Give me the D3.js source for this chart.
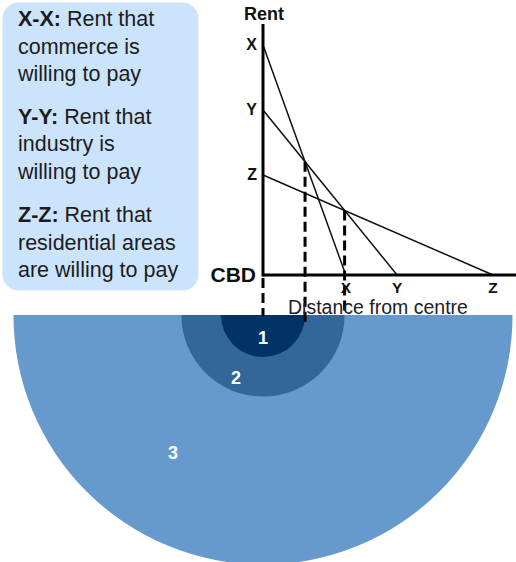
<!DOCTYPE html>
<html>
<head>
<meta charset="utf-8">
<script src="https://cdn.jsdelivr.net/npm/d3@7"></script>
<style>
  html, body { margin: 0; padding: 0; background: #fff; }
  svg { display: block; font-family: "Liberation Sans", Arial, sans-serif; }
</style>
</head>
<body>
<svg id="chart" width="516" height="562"></svg>
<script>
// Bid-rent curves: rent each land use will pay at the CBD and the distance where it falls to zero
const uses = ["X", "Y", "Z"];
const rentAtCentre = [10, 7.17, 4.35];
const zeroRentDistance = [3.6, 5.83, 10];

// Key text (bold prefix + wrapped description lines)
const keyPrefixes = ["X-X:", "Y-Y:", "Z-Z:"];
const keyLines = [
  ["Rent that", "commerce is", "willing to pay"],
  ["Rent that", "industry is", "willing to pay"],
  ["Rent that", "residential areas", "are willing to pay"]
];

// Land-use zones around the centre; zone 3 extends to this distance
const zoneLabels = ["1", "2", "3"];
const outerZoneLimit = 10.85;
const zoneColors = ["#023366", "#336699", "#6699cc"];

const svg = d3.select("#chart");

// Scales: distance (x) and rent (y)
const x = d3.scaleLinear().domain([0, 10]).range([263, 493]);
const y = d3.scaleLinear().domain([0, 10]).range([275, 45]);

// Straight bid-rent line for each use
const lineData = uses.map((u, i) => ({
  name: u,
  r0: rentAtCentre[i],
  d0: zeroRentDistance[i],
  slope: rentAtCentre[i] / zeroRentDistance[i]
}));

// Where one line overtakes the next: boundaries between zones
function crossing(a, b) {
  const d = (a.r0 - b.r0) / (a.slope - b.slope);
  return { d: d, r: a.r0 - a.slope * d };
}
const xy = crossing(lineData[0], lineData[1]);
const yz = crossing(lineData[1], lineData[2]);
const zoneLimits = [xy.d, yz.d, outerZoneLimit];

// ---- Key box ----
const key = svg.append("g");
key.append("rect")
  .attr("x", 2.5).attr("y", 2.5)
  .attr("width", 196).attr("height", 288)
  .attr("rx", 16).attr("ry", 16)
  .attr("fill", "#cce4fb");

const blockTops = [26, 123.5, 222];
const lineGap = 27.5;
keyPrefixes.forEach((p, i) => {
  keyLines[i].forEach((txt, j) => {
    const t = key.append("text")
      .attr("x", 18)
      .attr("y", blockTops[i] + j * lineGap)
      .attr("font-size", 21.5)
      .attr("fill", "#1c1c1c");
    if (j === 0) {
      t.append("tspan").attr("font-weight", "bold").text(p);
      t.append("tspan").text(" " + txt);
    } else {
      t.text(txt);
    }
  });
});

// ---- Zones (half rings below the graph) ----
const cx = x(0), cy = 315;
const arc = d3.arc().startAngle(Math.PI / 2).endAngle(3 * Math.PI / 2);
const zones = svg.append("g").attr("transform", `translate(${cx},${cy})`);
zoneLimits.map((d, i) => ({ i, r: x(d) - x(0) }))
  .reverse()
  .forEach(z => {
    zones.append("path")
      .attr("d", arc({ innerRadius: 0, outerRadius: z.r }))
      .attr("fill", zoneColors[z.i]);
  });

const zoneLabelPos = [[0, 29], [-27, 69], [-90, 144]];
zoneLabels.forEach((lab, i) => {
  zones.append("text")
    .attr("x", zoneLabelPos[i][0]).attr("y", zoneLabelPos[i][1])
    .attr("text-anchor", "middle")
    .attr("font-size", 18).attr("font-weight", "bold")
    .attr("fill", "#fff")
    .text(lab);
});

// ---- Bid-rent lines ----
const g = svg.append("g");
lineData.forEach(l => {
  g.append("line")
    .attr("x1", x(0)).attr("y1", y(l.r0))
    .attr("x2", x(l.d0)).attr("y2", y(0))
    .attr("stroke", "#111").attr("stroke-width", 1.5);
});

// Dashed drop lines from the crossings down to the zones
const dash = "10,5";
[xy, yz].forEach((c, i) => {
  g.append("line")
    .attr("x1", x(c.d)).attr("y1", y(c.r))
    .attr("x2", x(c.d)).attr("y2", i === 0 ? 322 : 313)
    .attr("stroke", "#000").attr("stroke-width", 3)
    .attr("stroke-dasharray", dash);
});
g.append("line")
  .attr("x1", x(0)).attr("y1", 278)
  .attr("x2", x(0)).attr("y2", 316)
  .attr("stroke", "#000").attr("stroke-width", 3)
  .attr("stroke-dasharray", dash);

// Axes
g.append("line")
  .attr("x1", x(0)).attr("y1", 24)
  .attr("x2", x(0)).attr("y2", 276.5)
  .attr("stroke", "#000").attr("stroke-width", 3);
g.append("line")
  .attr("x1", x(0)).attr("y1", y(0))
  .attr("x2", 516).attr("y2", y(0))
  .attr("stroke", "#000").attr("stroke-width", 3);

// Axis labels
g.append("text")
  .attr("x", 264).attr("y", 20)
  .attr("text-anchor", "middle")
  .attr("font-size", 18).attr("font-weight", "bold")
  .attr("fill", "#111")
  .text("Rent");
g.append("text")
  .attr("x", 256).attr("y", 282)
  .attr("text-anchor", "end")
  .attr("font-size", 21).attr("font-weight", "bold")
  .attr("fill", "#111")
  .text("CBD");
g.append("text")
  .attr("x", 288).attr("y", 313.5)
  .attr("font-size", 19.5)
  .attr("fill", "#222")
  .text("Distance from centre");

// Intercept labels on each axis
lineData.forEach(l => {
  g.append("text")
    .attr("x", 257).attr("y", y(l.r0) + 5)
    .attr("text-anchor", "end")
    .attr("font-size", 16).attr("font-weight", "bold")
    .attr("fill", "#111")
    .text(l.name);
  g.append("text")
    .attr("x", x(l.d0)).attr("y", 292.5)
    .attr("text-anchor", "middle")
    .attr("font-size", 15.5).attr("font-weight", "bold")
    .attr("fill", "#111")
    .text(l.name);
});
</script>
</body>
</html>
